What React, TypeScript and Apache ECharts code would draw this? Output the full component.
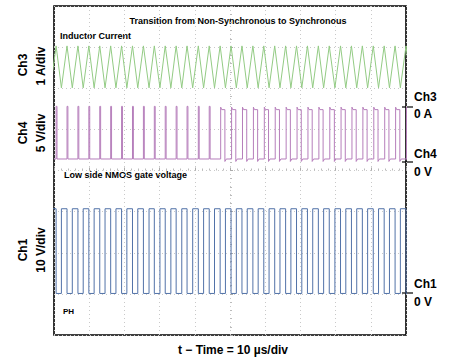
import React, { useEffect, useRef } from "react";
import * as echarts from "echarts";

// Time base: 10 divisions x 10 µs/div
const timeRangeUs = [0, 100];
const voltDivisions = [0, 8];

// Inductor current peaks (= PH falling edges) and troughs (= PH rising edges), µs
const inductorPeakTimes = [
  0.6, 3.7, 6.8, 9.9, 13.0, 16.1, 19.2, 22.3, 25.4, 28.5, 31.6, 34.7, 37.8, 41.0,
  44.1, 47.2, 50.3, 53.4, 56.5, 59.6, 62.7, 65.8, 68.9, 72.0, 75.1, 78.2, 81.4,
  84.5, 87.6, 90.7, 93.8, 96.9, 100.0,
];
const inductorTroughTimes = [
  -1.0, 2.1, 5.2, 8.3, 11.4, 14.5, 17.6, 20.7, 23.8, 27.0, 30.1, 33.2, 36.3, 39.4,
  42.5, 45.6, 48.7, 51.8, 54.9, 58.0, 61.1, 64.2, 67.3, 70.4, 73.5, 76.6, 79.8,
  82.9, 86.0, 89.1, 92.2, 95.3, 98.4, 101.5,
];
const inductorPeakA = 1.53;
const inductorTroughA = 0.51;

// Low side gate (Ch4), V
const syncStartUs = 46.5;
const gateLowV = 0.4;
const gateSpikeV = 6.8;
const gateHighV = 6.4;
const gateOvershootV = 0.3;
const gateSpikeWidthUs = 0.25;
const deadTimeUs = 0.15;

// PH (Ch1), V
const phHighV = 20.5;
const phLowV = -0.1;

// Channel offsets (div) and scales (units/div)
const ch3Scale = { zeroDiv: 5.5, perDiv: 1 };
const ch4Scale = { zeroDiv: 4.2, perDiv: 5 };
const ch1Scale = { zeroDiv: 1.02, perDiv: 10 };

const toDiv = (s: { zeroDiv: number; perDiv: number }, v: number) => s.zeroDiv + v / s.perDiv;

function buildInductor() {
  const pts: { t: number; v: number }[] = [];
  inductorTroughTimes.forEach((t) => pts.push({ t, v: inductorTroughA }));
  inductorPeakTimes.forEach((t) => pts.push({ t, v: inductorPeakA }));
  pts.sort((a, b) => a.t - b.t);
  return pts.map((p) => [p.t, toDiv(ch3Scale, p.v)]);
}

function buildPH() {
  const out: number[][] = [];
  for (let i = 0; i < inductorTroughTimes.length; i++) {
    const tr = inductorTroughTimes[i];
    const pk = inductorPeakTimes.find((p) => p > tr);
    out.push([tr, toDiv(ch1Scale, phLowV)]);
    out.push([tr, toDiv(ch1Scale, phHighV)]);
    if (pk !== undefined) {
      out.push([pk, toDiv(ch1Scale, phHighV)]);
      out.push([pk, toDiv(ch1Scale, phLowV)]);
    }
  }
  return out;
}

function buildGate() {
  const out: number[][] = [[timeRangeUs[0], toDiv(ch4Scale, gateLowV)]];
  inductorPeakTimes.forEach((pk) => {
    if (pk < syncStartUs) {
      out.push([pk, toDiv(ch4Scale, gateLowV)]);
      out.push([pk, toDiv(ch4Scale, gateSpikeV)]);
      out.push([pk + gateSpikeWidthUs, toDiv(ch4Scale, gateSpikeV)]);
      out.push([pk + gateSpikeWidthUs, toDiv(ch4Scale, gateLowV)]);
    } else {
      const next = inductorTroughTimes.find((t) => t > pk);
      const start = pk + deadTimeUs;
      const end = (next ?? timeRangeUs[1]) - deadTimeUs;
      out.push([start, toDiv(ch4Scale, gateLowV)]);
      out.push([start, toDiv(ch4Scale, gateHighV + gateOvershootV)]);
      out.push([start + 0.3, toDiv(ch4Scale, gateHighV)]);
      out.push([end, toDiv(ch4Scale, gateHighV)]);
      out.push([end, toDiv(ch4Scale, gateLowV - gateOvershootV)]);
      out.push([end + 0.4, toDiv(ch4Scale, gateLowV)]);
    }
  });
  out.push([timeRangeUs[1], toDiv(ch4Scale, gateLowV)]);
  return out;
}

const FONT = "Liberation Sans, Arial, sans-serif";
const bold = (size: number) => `bold ${size}px ${FONT}`;

export default function App() {
  const ref = useRef<HTMLDivElement>(null);
  useEffect(() => {
    if (!ref.current) return;
    const chart = echarts.init(ref.current, undefined, { renderer: "svg" });
    const gridLeft = 54, gridTop = 6, gridW = 352, gridH = 329;
    const rightX = gridLeft + gridW;
    const txt = (text: string, x: number, y: number, size: number, align = "left", rot = 0) => ({
      type: "text",
      x,
      y,
      rotation: rot,
      style: { text, font: bold(size), fill: "#000", align, verticalAlign: "middle" },
    });
    const tick = (y: number) => ({
      type: "line",
      shape: { x1: rightX - 4, y1: y, x2: rightX + 7, y2: y },
      style: { stroke: "#000", lineWidth: 1.2 },
    });
    chart.setOption({
      animation: false,
      backgroundColor: "#fff",
      grid: {
        left: gridLeft,
        top: gridTop,
        width: gridW,
        height: gridH,
        show: true,
        borderColor: "#000",
        borderWidth: 1.6,
        backgroundColor: "transparent",
      },
      xAxis: [
        {
          type: "value",
          min: timeRangeUs[0],
          max: timeRangeUs[1],
          interval: 10,
          axisLine: { show: false },
          axisTick: { show: false },
          axisLabel: { show: false },
          splitLine: { show: true, lineStyle: { color: "#c9c9c9", type: [1, 3], width: 1 } },
        },
        {
          type: "value",
          min: timeRangeUs[0],
          max: timeRangeUs[1],
          interval: 10,
          position: "bottom",
          offset: -gridH / 2,
          axisLine: { show: false },
          axisTick: { show: true, inside: true, length: 3, lineStyle: { color: "#aaa" } },
          minorTick: { show: true, splitNumber: 5, length: 2, lineStyle: { color: "#bbb" } },
          axisLabel: { show: false },
          splitLine: { show: false },
        },
      ],
      yAxis: [
        {
          type: "value",
          min: voltDivisions[0],
          max: voltDivisions[1],
          interval: 1,
          axisLine: { show: false },
          axisTick: { show: false },
          axisLabel: { show: false },
          splitLine: { show: true, lineStyle: { color: "#c9c9c9", type: [1, 3], width: 1 } },
        },
        {
          type: "value",
          min: voltDivisions[0],
          max: voltDivisions[1],
          interval: 1,
          position: "left",
          offset: -gridW / 2,
          axisLine: { show: false },
          axisTick: { show: true, inside: true, length: 3, lineStyle: { color: "#aaa" } },
          minorTick: { show: true, splitNumber: 5, length: 2, lineStyle: { color: "#bbb" } },
          axisLabel: { show: false },
          splitLine: { show: false },
        },
      ],
      series: [
        {
          type: "line",
          name: "Ch3 Inductor Current",
          data: buildInductor(),
          showSymbol: false,
          lineStyle: { color: "#93cb84", width: 1 },
          silent: true,
        },
        {
          type: "line",
          name: "Ch4 Low side gate",
          data: buildGate(),
          showSymbol: false,
          lineStyle: { color: "#b67ebb", width: 1 },
          silent: true,
        },
        {
          type: "line",
          name: "Ch1 PH",
          data: buildPH(),
          showSymbol: false,
          lineStyle: { color: "#5272a8", width: 1 },
          silent: true,
        },
      ],
      graphic: [
        txt("Transition from Non-Synchronous to Synchronous", 238, 21, 9, "center"),
        txt("Inductor Current", 60, 36, 9),
        txt("Low side NMOS gate voltage", 64, 175, 9),
        txt("PH", 63, 311, 8),
        txt("Ch3", 23, 65, 12, "center", Math.PI / 2),
        txt("1 A/div", 41, 66, 12, "center", Math.PI / 2),
        txt("Ch4", 23, 133, 12, "center", Math.PI / 2),
        txt("5 V/div", 41, 133, 12, "center", Math.PI / 2),
        txt("Ch1", 23, 250, 12, "center", Math.PI / 2),
        txt("10 V/div", 41, 250, 12, "center", Math.PI / 2),
        txt("Ch3", 414, 97, 12),
        txt("0 A", 414, 114, 12),
        txt("Ch4", 414, 154, 12),
        txt("0 V", 414, 172, 12),
        txt("Ch1", 414, 284, 12),
        txt("0 V", 414, 302, 12),
        tick(107),
        tick(162),
        tick(293),
        txt("t − Time = 10 µs/div", 233, 350, 12, "center"),
      ],
    });
    return () => chart.dispose();
  }, []);
  return <div ref={ref} style={{ width: 454, height: 364, position: "absolute", left: 0, top: 0 }} />;
}
